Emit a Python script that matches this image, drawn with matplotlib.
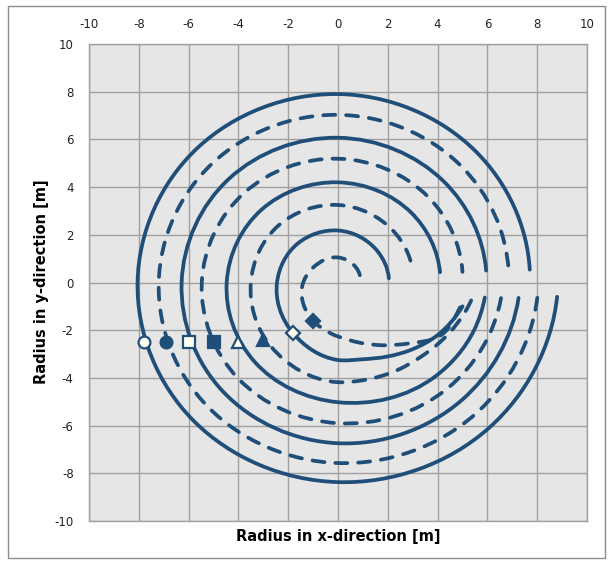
import numpy as np
import matplotlib
matplotlib.use("Agg")
import matplotlib.pyplot as plt
from matplotlib.path import Path
from matplotlib.patches import PathPatch, Rectangle

plt.rcParams["axes.unicode_minus"] = False

# each curve: clockwise sweep angle from +x axis [deg] and radius [m]
sweep_1 = [3.9, 45, 90, 135, 180, 225, 270, 315, 356]
radius_1 = [8.82, 8.6, 8.37, 8.2, 8.05, 7.98, 7.9, 7.8, 7.72]
sweep_2 = [4.6, 45, 90, 135, 180, 225, 270, 315, 355.8]
radius_2 = [8.03, 7.8, 7.57, 7.38, 7.2, 7.1, 7.03, 6.95, 6.87]
sweep_3 = [5.1, 45, 90, 135, 180, 225, 270, 315, 355.2]
radius_3 = [7.28, 7.0, 6.74, 6.5, 6.28, 6.17, 6.07, 6.0, 5.97]
sweep_4 = [5.7, 45, 90, 135, 180, 225, 270, 315, 354.9]
radius_4 = [6.58, 6.25, 5.9, 5.68, 5.47, 5.32, 5.19, 5.1, 5.02]
sweep_5 = [6.1, 20, 45, 90, 135, 180, 225, 270, 315, 354]
radius_5 = [5.93, 5.82, 5.55, 5.02, 4.72, 4.47, 4.33, 4.2, 4.15, 4.12]
sweep_6 = [8, 31.4, 43.6, 57, 76, 90, 135, 180, 225, 270, 315, 350.5]
radius_6 = [5.4, 4.8, 4.55, 4.38, 4.22, 4.18, 3.8, 3.5, 3.38, 3.25, 3.1, 3.04]
sweep_7 = [11.3, 28.8, 43, 57.2, 72.7, 90, 130, 180, 225, 270, 319.5, 355]
radius_7 = [5.1, 4.57, 4.1, 3.69, 3.37, 3.25, 2.79, 2.45, 2.3, 2.18, 2.06, 2.05]
sweep_8 = [12, 29.9, 41.3, 55.6, 78.4, 98, 122, 172, 212, 270, 349]
radius_8 = [5.01, 4.61, 3.86, 3.19, 2.48, 2.15, 1.89, 1.46, 1.18, 1.05, 0.92]

curves = [(sweep_1, radius_1, "solid"), (sweep_2, radius_2, "dashed"),
          (sweep_3, radius_3, "solid"), (sweep_4, radius_4, "dashed"),
          (sweep_5, radius_5, "solid"), (sweep_6, radius_6, "dashed"),
          (sweep_7, radius_7, "solid"), (sweep_8, radius_8, "dashed")]

# start markers on each curve
marker_x = [-7.8, -6.9, -6.0, -5.0, -4.0, -3.0, -1.8, -1.0]
marker_y = [-2.5, -2.5, -2.5, -2.5, -2.5, -2.43, -2.13, -1.6]
marker_shape = ["o", "o", "s", "s", "^", "^", "D", "D"]
marker_open = [True, False, True, False, True, False, True, False]

ticks = list(range(-10, 11, 2))

BLUE = "#1F4E79"


def spiral_path(sweep, radius):
    # cubic hermite in polar coords, drawn as bezier segments
    th = -np.radians(np.array(sweep, dtype=float))
    r = np.array(radius, dtype=float)
    n = len(r)
    dr = np.gradient(r, th)
    x = r * np.cos(th)
    y = r * np.sin(th)
    tx = dr * np.cos(th) - r * np.sin(th)
    ty = dr * np.sin(th) + r * np.cos(th)
    verts = [(x[0], y[0])]
    codes = [Path.MOVETO]
    for i in range(n - 1):
        d = th[i + 1] - th[i]
        verts += [(x[i] + tx[i] * d / 3, y[i] + ty[i] * d / 3),
                  (x[i + 1] - tx[i + 1] * d / 3, y[i + 1] - ty[i + 1] * d / 3),
                  (x[i + 1], y[i + 1])]
        codes += [Path.CURVE4] * 3
    return Path(verts, codes)


fig = plt.figure(figsize=(6.13, 5.65), dpi=100)
fig.patches.append(Rectangle((8 / 613, 7 / 565), 597 / 613, 552 / 565,
                             transform=fig.transFigure, fill=False,
                             edgecolor="#8C8C8C", lw=1))
ax = fig.add_axes([89 / 613, 44 / 565, 498 / 613, 477 / 565])
ax.set_facecolor("#E6E6E6")

for sw, rr, style in curves:
    ls = "-" if style == "solid" else (0, (3.2, 2.9))
    patch = PathPatch(spiral_path(sw, rr), fill=False, edgecolor=BLUE, lw=2.7,
                      linestyle=ls, capstyle="round", joinstyle="round",
                      zorder=3)
    ax.add_patch(patch)

for x, y, m, op in zip(marker_x, marker_y, marker_shape, marker_open):
    ms = 7 if m == "D" else 8.5
    ax.plot(x, y, marker=m, markersize=ms,
            markerfacecolor="#FFFFF2" if op else BLUE,
            markeredgecolor=BLUE, markeredgewidth=1.6, zorder=4,
            linestyle="none")

ax.set_xlim(-10, 10)
ax.set_ylim(-10, 10)
ax.set_xticks(ticks)
ax.set_yticks(ticks)
ax.xaxis.tick_top()
ax.tick_params(length=0, labelsize=8.5, labelcolor="#222222")
ax.tick_params(axis="x", pad=9)
ax.tick_params(axis="y", pad=11)
ax.grid(True, color="#A0A0A0", lw=1)
ax.set_axisbelow(True)
for s in ax.spines.values():
    s.set_color("#A0A0A0")
    s.set_linewidth(1)

fig.text(338 / 613, 1 - 537 / 565, "Radius in x-direction [m]", ha="center",
         va="center", fontsize=10.5, fontweight="bold")
fig.text(42 / 613, 1 - 282 / 565, "Radius in y-direction [m]", ha="center",
         va="center", fontsize=10.5, fontweight="bold", rotation=90)

fig.savefig("out.png", dpi=100)
